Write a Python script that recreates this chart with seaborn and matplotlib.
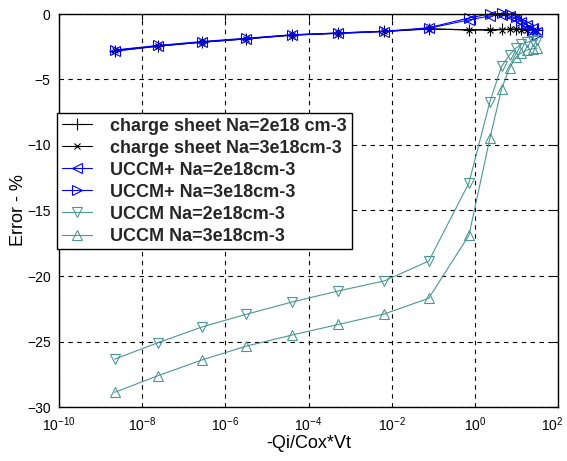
import matplotlib
matplotlib.use("Agg")
import matplotlib.pyplot as plt
import matplotlib.transforms as mtransforms
import seaborn as sns
import numpy as np
import pandas as pd
from matplotlib.ticker import FixedLocator, NullLocator, LogFormatterSciNotation

# ---- data ----
qi = [2.19e-9, 2.45e-8, 2.8e-7, 3.2e-6, 4.1e-5, 5.2e-4, 6.6e-3, 0.078, 0.72,
      2.3, 4.4, 6.9, 9.8, 13.2, 18.2, 24.5, 31.6]

cs_2e18 = [-2.80, -2.45, -2.15, -1.90, -1.62, -1.47, -1.33, -1.15, -1.20,
           -1.20, -1.18, -1.16, -1.15, -1.17, -1.20, -1.22, -1.25]
cs_3e18 = [-2.78, -2.43, -2.13, -1.88, -1.60, -1.45, -1.31, -1.13, -1.22,
           -1.22, -1.20, -1.18, -1.18, -1.20, -1.22, -1.25, -1.28]
uccmp_2e18 = [-2.85, -2.45, -2.15, -1.90, -1.60, -1.48, -1.35, -1.09, -0.45,
              -0.15, -0.10, -0.15, -0.35, -0.60, -0.85, -1.10, -1.40]
uccmp_3e18 = [-2.75, -2.40, -2.10, -1.85, -1.58, -1.45, -1.32, -1.05, -0.30,
              0.00, 0.05, 0.00, -0.20, -0.50, -0.80, -1.20, -1.60]
uccm_2e18 = [-26.35, -25.08, -23.88, -22.92, -21.98, -21.14, -20.38, -18.86, -12.9,
             -6.7, -4.0, -3.1, -2.6, -2.3, -2.15, -2.05, -2.0]
uccm_3e18 = [-28.88, -27.6, -26.4, -25.35, -24.5, -23.7, -22.9, -21.7, -16.9,
             -9.5, -5.7, -4.1, -3.3, -2.95, -2.75, -2.65, -2.6]

series_labels = ["charge sheet Na=2e18 cm-3", "charge sheet Na=3e18cm-3",
                 "UCCM+ Na=2e18cm-3", "UCCM+ Na=3e18cm-3",
                 "UCCM Na=2e18cm-3", "UCCM Na=3e18cm-3"]
series_values = [cs_2e18, cs_3e18, uccmp_2e18, uccmp_3e18, uccm_2e18, uccm_3e18]

x_ticks = [1e-10, 1e-8, 1e-6, 1e-4, 1e-2, 1e0, 1e2]
y_ticks = [0, -5, -10, -15, -20, -25, -30]

# ---- styles ----
teal = "#4c9696"
styles = [
    dict(color="black", marker="+", ms=8, mfc="black"),
    dict(color="black", marker="x", ms=4, mfc="black"),
    dict(color="#0000ff", marker="<", ms=7.5, mfc="none"),
    dict(color="#0000ff", marker=">", ms=7.5, mfc="none"),
    dict(color=teal, marker="v", ms=7.5, mfc="none"),
    dict(color=teal, marker="^", ms=7.5, mfc="none"),
]

sns.set_theme(style="white")
plt.rcParams["font.family"] = ["Liberation Sans", "DejaVu Sans"]
plt.rcParams["mathtext.default"] = "regular"

fig = plt.figure(figsize=(5.67, 4.61), dpi=100)
ax = fig.add_axes([59 / 567, 1 - 407 / 461, 499 / 567, 393 / 461])

for lab, vals, st in zip(series_labels, series_values, styles):
    df = pd.DataFrame({"x": qi, "y": vals})
    sns.lineplot(data=df, x="x", y="y", ax=ax, sort=False, estimator=None,
                 color=st["color"], marker=st["marker"], markersize=st["ms"],
                 markerfacecolor=st["mfc"], markeredgecolor=st["color"],
                 markeredgewidth=0.8, linewidth=0.8, label=lab, clip_on=False)

ax.set_xscale("log")
ax.set_xlim(1e-10, 1e2)
ax.set_ylim(-30, 0)
ax.xaxis.set_major_locator(FixedLocator(x_ticks))
ax.xaxis.set_minor_locator(NullLocator())
ax.xaxis.set_major_formatter(LogFormatterSciNotation())
ax.yaxis.set_major_locator(FixedLocator(y_ticks))

ax.grid(True, which="major", color="black", linestyle=(0, (4, 4)), linewidth=0.8)
ax.tick_params(direction="in", length=4, width=0.8, top=True, right=True,
               labelsize=10, colors="black")
ax.tick_params(axis="x", pad=6)
ax.tick_params(axis="y", pad=6)
for sp in ax.spines.values():
    sp.set_color("black")
    sp.set_linewidth(1.0)

ax.set_xlabel("-Qi/Cox*Vt", fontsize=13, color="black", labelpad=1)
ax.set_ylabel("Error - %", fontsize=13, color="black", labelpad=0)

leg = ax.legend(loc="upper left", bbox_to_anchor=(-0.004, 0.748), borderaxespad=0,
                fontsize=13, frameon=True, fancybox=False, framealpha=1,
                edgecolor="black", handlelength=1.7, handletextpad=1.0,
                labelspacing=0.28, borderpad=0.25)
leg.get_frame().set_linewidth(1.0)
for t in leg.get_texts():
    t.set_fontweight("bold")

# keep the last x tick label inside the canvas
fig.canvas.draw()
last = ax.get_xticklabels()[-1]
last.set_transform(last.get_transform() +
                   mtransforms.ScaledTranslation(-6 / 100, 0, fig.dpi_scale_trans))

fig.savefig("out.png", dpi=100)
